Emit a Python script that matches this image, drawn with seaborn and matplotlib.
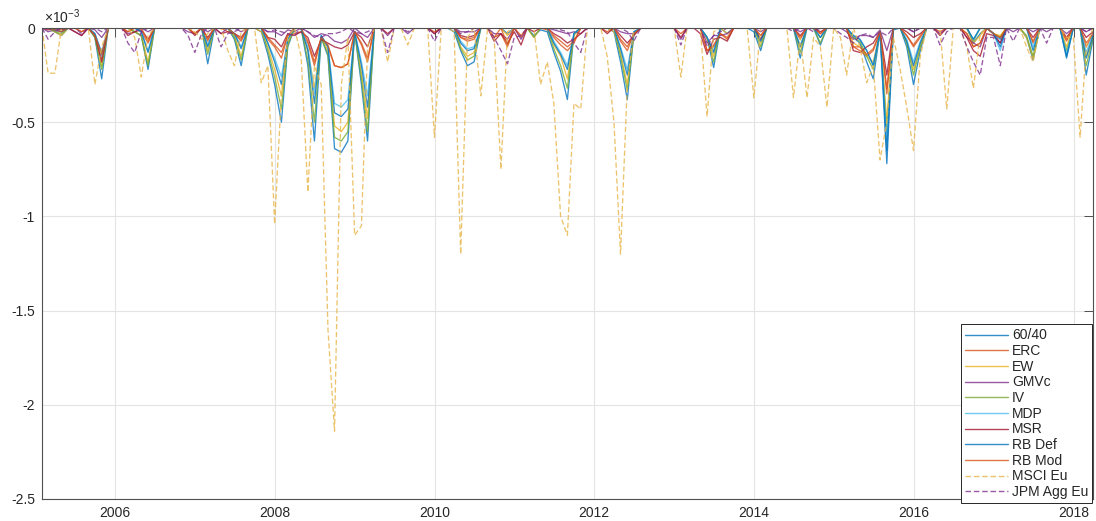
import numpy as np
import pandas as pd
import matplotlib
matplotlib.use("Agg")
import matplotlib.pyplot as plt
import matplotlib.dates as mdates
from matplotlib.lines import Line2D
import seaborn as sns

# ---------------- data (drawdown values, units of 1e-3; months not listed are 0) ----------------
start_month = "2005-01"
end_month = "2018-03"
series_names = ["60/40", "ERC", "EW", "GMVc", "IV", "MDP", "MSR", "RB Def", "RB Mod", "MSCI Eu", "JPM Agg Eu"]

s_6040 = [("2005-03", -0.02), ("2005-04", -0.04), ("2005-09", -0.05), ("2005-10", -0.27), ("2006-03", -0.02),
          ("2006-04", -0.04), ("2006-05", -0.22), ("2007-02", -0.19), ("2007-06", -0.06), ("2007-07", -0.20),
          ("2007-10", -0.02), ("2007-11", -0.14), ("2007-12", -0.30), ("2008-01", -0.50), ("2008-02", -0.10),
          ("2008-05", -0.20), ("2008-06", -0.60), ("2008-07", -0.05), ("2008-08", -0.15), ("2008-09", -0.64),
          ("2008-10", -0.66), ("2008-11", -0.60), ("2008-12", -0.02), ("2009-01", -0.30), ("2009-02", -0.60),
          ("2010-03", -0.02), ("2010-04", -0.12), ("2010-05", -0.20), ("2010-06", -0.18), ("2010-11", -0.03),
          ("2011-03", -0.04), ("2011-04", -0.01), ("2011-05", -0.02), ("2011-06", -0.13), ("2011-07", -0.23),
          ("2011-08", -0.38), ("2011-09", -0.03), ("2012-03", -0.02), ("2012-04", -0.18), ("2012-05", -0.38),
          ("2012-06", -0.03), ("2013-05", -0.05), ("2013-06", -0.21), ("2013-08", -0.03), ("2013-12", -0.02),
          ("2014-01", -0.12), ("2014-07", -0.16), ("2014-10", -0.09), ("2015-03", -0.05), ("2015-04", -0.08),
          ("2015-05", -0.18), ("2015-06", -0.27), ("2015-07", -0.02), ("2015-08", -0.72), ("2015-09", -0.01),
          ("2015-11", -0.10), ("2015-12", -0.30), ("2016-01", -0.12), ("2016-09", -0.08), ("2016-10", -0.03),
          ("2016-12", -0.03), ("2017-01", -0.06), ("2017-05", -0.05), ("2017-06", -0.17), ("2017-11", -0.16),
          ("2018-02", -0.25), ("2018-03", -0.06)]

s_erc = [("2005-03", -0.01), ("2005-04", -0.02), ("2005-07", -0.02), ("2005-09", -0.04), ("2005-10", -0.16),
         ("2006-02", -0.02), ("2006-04", -0.02), ("2006-05", -0.08), ("2006-12", -0.03), ("2007-02", -0.07),
         ("2007-05", -0.02), ("2007-06", -0.03), ("2007-07", -0.07), ("2007-11", -0.06), ("2007-12", -0.10),
         ("2008-01", -0.16), ("2008-02", -0.04), ("2008-03", -0.03), ("2008-04", -0.02), ("2008-05", -0.08),
         ("2008-06", -0.20), ("2008-07", -0.05), ("2008-08", -0.10), ("2008-09", -0.20), ("2008-10", -0.21),
         ("2008-11", -0.19), ("2008-12", -0.02), ("2009-01", -0.09), ("2009-02", -0.18), ("2009-12", -0.02),
         ("2010-04", -0.05), ("2010-05", -0.07), ("2010-06", -0.06), ("2010-09", -0.05), ("2010-10", -0.03),
         ("2010-11", -0.10), ("2011-01", -0.05), ("2011-05", -0.01), ("2011-06", -0.05), ("2011-07", -0.09),
         ("2011-08", -0.12), ("2011-09", -0.08), ("2012-02", -0.02), ("2012-04", -0.07), ("2012-05", -0.12),
         ("2012-06", -0.03), ("2013-01", -0.03), ("2013-05", -0.12), ("2013-06", -0.10), ("2013-07", -0.03),
         ("2013-08", -0.06), ("2014-01", -0.04), ("2014-07", -0.06), ("2014-10", -0.03), ("2015-03", -0.10),
         ("2015-04", -0.12), ("2015-05", -0.15), ("2015-06", -0.12), ("2015-07", -0.02), ("2015-08", -0.35),
         ("2015-11", -0.04), ("2015-12", -0.10), ("2016-01", -0.05), ("2016-04", -0.02), ("2016-08", -0.03),
         ("2016-09", -0.10), ("2016-10", -0.08), ("2016-12", -0.03), ("2017-01", -0.05), ("2017-06", -0.08),
         ("2017-11", -0.07), ("2018-02", -0.10), ("2018-03", -0.03)]

s_ew = [("2005-03", -0.02), ("2005-04", -0.04), ("2005-09", -0.04), ("2005-10", -0.20), ("2006-03", -0.02),
        ("2006-04", -0.04), ("2006-05", -0.18), ("2007-02", -0.12), ("2007-06", -0.04), ("2007-07", -0.15),
        ("2007-10", -0.02), ("2007-11", -0.10), ("2007-12", -0.22), ("2008-01", -0.36), ("2008-02", -0.08),
        ("2008-05", -0.12), ("2008-06", -0.32), ("2008-07", -0.05), ("2008-08", -0.12), ("2008-09", -0.52),
        ("2008-10", -0.55), ("2008-11", -0.50), ("2008-12", -0.02), ("2009-01", -0.24), ("2009-02", -0.48),
        ("2010-04", -0.10), ("2010-05", -0.15), ("2010-06", -0.13), ("2010-11", -0.04), ("2011-03", -0.05),
        ("2011-06", -0.09), ("2011-07", -0.15), ("2011-08", -0.27), ("2011-09", -0.04), ("2012-03", -0.02),
        ("2012-04", -0.13), ("2012-05", -0.30), ("2012-06", -0.03), ("2013-05", -0.06), ("2013-06", -0.15),
        ("2013-08", -0.03), ("2014-01", -0.08), ("2014-07", -0.10), ("2014-10", -0.05), ("2015-03", -0.08),
        ("2015-04", -0.10), ("2015-05", -0.15), ("2015-06", -0.18), ("2015-07", -0.02), ("2015-08", -0.50),
        ("2015-11", -0.07), ("2015-12", -0.22), ("2016-01", -0.10), ("2016-09", -0.08), ("2016-10", -0.04),
        ("2016-12", -0.03), ("2017-01", -0.04), ("2017-05", -0.05), ("2017-06", -0.16), ("2017-11", -0.10),
        ("2018-02", -0.15), ("2018-03", -0.04)]

s_gmvc = [("2005-02", -0.02), ("2005-03", -0.01), ("2005-06", -0.02), ("2005-07", -0.04), ("2005-09", -0.01),
          ("2005-10", -0.05), ("2006-02", -0.03), ("2006-03", -0.02), ("2006-05", -0.02), ("2006-11", -0.02),
          ("2006-12", -0.03), ("2007-02", -0.02), ("2007-04", -0.03), ("2007-07", -0.02), ("2007-11", -0.02),
          ("2007-12", -0.02), ("2008-01", -0.04), ("2008-02", -0.01), ("2008-03", -0.02), ("2008-05", -0.02),
          ("2008-06", -0.05), ("2008-07", -0.03), ("2008-08", -0.04), ("2008-09", -0.07), ("2008-10", -0.08),
          ("2008-11", -0.06), ("2009-01", -0.03), ("2009-02", -0.05), ("2009-05", -0.04), ("2009-08", -0.03),
          ("2009-12", -0.03), ("2010-04", -0.02), ("2010-05", -0.02), ("2010-06", -0.02), ("2010-09", -0.03),
          ("2010-10", -0.03), ("2010-11", -0.06), ("2011-01", -0.06), ("2011-06", -0.01), ("2011-07", -0.02),
          ("2011-08", -0.03), ("2011-09", -0.02), ("2011-10", -0.03), ("2012-04", -0.02), ("2012-05", -0.03),
          ("2012-06", -0.03), ("2013-01", -0.06), ("2013-05", -0.08), ("2013-06", -0.04), ("2013-07", -0.04),
          ("2013-08", -0.03), ("2014-01", -0.02), ("2014-07", -0.02), ("2015-02", -0.02), ("2015-03", -0.06),
          ("2015-04", -0.04), ("2015-05", -0.04), ("2015-06", -0.05), ("2015-07", -0.01), ("2015-08", -0.12),
          ("2015-12", -0.02), ("2016-04", -0.03), ("2016-08", -0.05), ("2016-09", -0.08), ("2016-10", -0.10),
          ("2016-12", -0.03), ("2017-01", -0.08), ("2017-03", -0.02), ("2017-06", -0.02), ("2017-08", -0.02),
          ("2017-11", -0.03), ("2018-02", -0.02)]

s_iv = [("2005-03", -0.02), ("2005-04", -0.03), ("2005-09", -0.05), ("2005-10", -0.22), ("2006-03", -0.02),
        ("2006-04", -0.04), ("2006-05", -0.20), ("2007-02", -0.14), ("2007-06", -0.05), ("2007-07", -0.17),
        ("2007-11", -0.12), ("2007-12", -0.26), ("2008-01", -0.43), ("2008-02", -0.09), ("2008-05", -0.17),
        ("2008-06", -0.50), ("2008-07", -0.05), ("2008-08", -0.14), ("2008-09", -0.58), ("2008-10", -0.60),
        ("2008-11", -0.55), ("2008-12", -0.02), ("2009-01", -0.27), ("2009-02", -0.55), ("2010-04", -0.11),
        ("2010-05", -0.17), ("2010-06", -0.15), ("2011-03", -0.05), ("2011-06", -0.11), ("2011-07", -0.20),
        ("2011-08", -0.32), ("2011-09", -0.03), ("2012-04", -0.15), ("2012-05", -0.33), ("2012-06", -0.03),
        ("2013-05", -0.05), ("2013-06", -0.18), ("2014-01", -0.10), ("2014-07", -0.13), ("2014-10", -0.08),
        ("2015-03", -0.05), ("2015-04", -0.07), ("2015-05", -0.15), ("2015-06", -0.22), ("2015-07", -0.02),
        ("2015-08", -0.55), ("2015-11", -0.08), ("2015-12", -0.25), ("2016-01", -0.10), ("2016-09", -0.07),
        ("2016-12", -0.03), ("2017-01", -0.05), ("2017-05", -0.04), ("2017-06", -0.15), ("2017-11", -0.12),
        ("2018-02", -0.20), ("2018-03", -0.05)]

s_mdp = [("2005-03", -0.01), ("2005-04", -0.02), ("2005-09", -0.03), ("2005-10", -0.15), ("2006-04", -0.02),
         ("2006-05", -0.12), ("2007-02", -0.09), ("2007-06", -0.03), ("2007-07", -0.10), ("2007-11", -0.08),
         ("2007-12", -0.16), ("2008-01", -0.26), ("2008-02", -0.06), ("2008-05", -0.10), ("2008-06", -0.35),
         ("2008-07", -0.04), ("2008-08", -0.10), ("2008-09", -0.40), ("2008-10", -0.42), ("2008-11", -0.38),
         ("2008-12", -0.02), ("2009-01", -0.18), ("2009-02", -0.36), ("2010-04", -0.07), ("2010-05", -0.11),
         ("2010-06", -0.10), ("2011-06", -0.07), ("2011-07", -0.13), ("2011-08", -0.20), ("2011-09", -0.03),
         ("2012-04", -0.10), ("2012-05", -0.22), ("2012-06", -0.02), ("2013-05", -0.05), ("2013-06", -0.12),
         ("2014-01", -0.06), ("2014-07", -0.09), ("2014-10", -0.05), ("2015-03", -0.04), ("2015-04", -0.06),
         ("2015-05", -0.12), ("2015-06", -0.20), ("2015-07", -0.02), ("2015-08", -0.60), ("2015-11", -0.06),
         ("2015-12", -0.18), ("2016-01", -0.07), ("2016-09", -0.06), ("2016-12", -0.03), ("2017-01", -0.12),
         ("2017-06", -0.10), ("2017-11", -0.14), ("2018-02", -0.13), ("2018-03", -0.03)]

s_msr = [("2005-02", -0.01), ("2005-04", -0.01), ("2005-06", -0.02), ("2005-07", -0.04), ("2005-09", -0.04),
         ("2005-10", -0.18), ("2006-02", -0.04), ("2006-03", -0.02), ("2006-04", -0.01), ("2006-05", -0.06),
         ("2006-12", -0.04), ("2007-02", -0.05), ("2007-04", -0.03), ("2007-05", -0.02), ("2007-06", -0.03),
         ("2007-07", -0.05), ("2007-11", -0.05), ("2007-12", -0.06), ("2008-01", -0.10), ("2008-02", -0.03),
         ("2008-03", -0.04), ("2008-04", -0.02), ("2008-05", -0.05), ("2008-06", -0.15), ("2008-07", -0.06),
         ("2008-08", -0.08), ("2008-09", -0.10), ("2008-10", -0.11), ("2008-11", -0.09), ("2008-12", -0.02),
         ("2009-01", -0.05), ("2009-02", -0.10), ("2009-05", -0.03), ("2009-12", -0.03), ("2010-04", -0.04),
         ("2010-05", -0.05), ("2010-06", -0.04), ("2010-09", -0.07), ("2010-10", -0.03), ("2010-11", -0.08),
         ("2010-12", -0.02), ("2011-01", -0.09), ("2011-03", -0.02), ("2011-06", -0.03), ("2011-07", -0.05),
         ("2011-08", -0.08), ("2011-09", -0.06), ("2011-10", -0.03), ("2012-02", -0.03), ("2012-04", -0.04),
         ("2012-05", -0.08), ("2012-06", -0.04), ("2013-01", -0.05), ("2013-04", -0.03), ("2013-05", -0.14),
         ("2013-06", -0.06), ("2013-07", -0.05), ("2013-08", -0.07), ("2014-01", -0.06), ("2014-07", -0.04),
         ("2014-10", -0.02), ("2015-03", -0.12), ("2015-04", -0.13), ("2015-05", -0.10), ("2015-06", -0.08),
         ("2015-07", -0.02), ("2015-08", -0.25), ("2015-11", -0.02), ("2015-12", -0.05), ("2016-01", -0.03),
         ("2016-04", -0.04), ("2016-08", -0.05), ("2016-09", -0.12), ("2016-10", -0.15), ("2016-11", -0.03),
         ("2016-12", -0.04), ("2017-01", -0.08), ("2017-06", -0.05), ("2017-11", -0.05), ("2018-02", -0.05),
         ("2018-03", -0.02)]

s_rbdef = [("2005-03", -0.01), ("2005-04", -0.02), ("2005-09", -0.03), ("2005-10", -0.13), ("2006-04", -0.02),
           ("2006-05", -0.13), ("2007-02", -0.10), ("2007-06", -0.03), ("2007-07", -0.11), ("2007-11", -0.08),
           ("2007-12", -0.18), ("2008-01", -0.30), ("2008-02", -0.06), ("2008-05", -0.12), ("2008-06", -0.40),
           ("2008-07", -0.04), ("2008-08", -0.10), ("2008-09", -0.45), ("2008-10", -0.47), ("2008-11", -0.43),
           ("2008-12", -0.02), ("2009-01", -0.20), ("2009-02", -0.42), ("2010-04", -0.08), ("2010-05", -0.12),
           ("2010-06", -0.11), ("2011-06", -0.08), ("2011-07", -0.14), ("2011-08", -0.22), ("2011-09", -0.03),
           ("2012-04", -0.11), ("2012-05", -0.25), ("2012-06", -0.02), ("2013-05", -0.05), ("2013-06", -0.13),
           ("2014-01", -0.07), ("2014-07", -0.10), ("2014-10", -0.05), ("2015-03", -0.04), ("2015-04", -0.06),
           ("2015-05", -0.12), ("2015-06", -0.20), ("2015-07", -0.02), ("2015-08", -0.65), ("2015-11", -0.07),
           ("2015-12", -0.20), ("2016-01", -0.08), ("2016-09", -0.06), ("2016-12", -0.03), ("2017-01", -0.10),
           ("2017-06", -0.12), ("2017-11", -0.15), ("2018-02", -0.16), ("2018-03", -0.04)]

s_rbmod = [("2005-03", -0.01), ("2005-04", -0.02), ("2005-07", -0.02), ("2005-09", -0.04), ("2005-10", -0.14),
           ("2006-02", -0.02), ("2006-05", -0.07), ("2006-12", -0.03), ("2007-02", -0.06), ("2007-06", -0.03),
           ("2007-07", -0.06), ("2007-11", -0.05), ("2007-12", -0.09), ("2008-01", -0.13), ("2008-02", -0.04),
           ("2008-05", -0.07), ("2008-06", -0.18), ("2008-07", -0.05), ("2008-08", -0.09), ("2008-09", -0.20),
           ("2008-10", -0.21), ("2008-11", -0.19), ("2008-12", -0.02), ("2009-01", -0.08), ("2009-02", -0.16),
           ("2010-04", -0.05), ("2010-05", -0.06), ("2010-06", -0.05), ("2010-09", -0.05), ("2010-11", -0.09),
           ("2011-01", -0.04), ("2011-06", -0.04), ("2011-07", -0.07), ("2011-08", -0.10), ("2011-09", -0.07),
           ("2012-04", -0.06), ("2012-05", -0.10), ("2012-06", -0.03), ("2013-05", -0.12), ("2013-06", -0.09),
           ("2013-07", -0.03), ("2013-08", -0.05), ("2014-01", -0.04), ("2014-07", -0.05), ("2014-10", -0.03),
           ("2015-03", -0.10), ("2015-04", -0.10), ("2015-05", -0.14), ("2015-06", -0.11), ("2015-07", -0.02),
           ("2015-08", -0.32), ("2015-11", -0.04), ("2015-12", -0.09), ("2016-01", -0.04), ("2016-08", -0.03),
           ("2016-09", -0.10), ("2016-10", -0.08), ("2016-12", -0.03), ("2017-01", -0.05), ("2017-06", -0.07),
           ("2017-11", -0.06), ("2018-02", -0.08), ("2018-03", -0.03)]

s_msci = [("2005-02", -0.24), ("2005-03", -0.24), ("2005-09", -0.30), ("2005-10", -0.10), ("2006-03", -0.05),
          ("2006-04", -0.26), ("2006-05", -0.04), ("2006-12", -0.02), ("2007-01", -0.06), ("2007-02", -0.03),
          ("2007-05", -0.12), ("2007-06", -0.20), ("2007-07", -0.02), ("2007-10", -0.29), ("2007-11", -0.20),
          ("2007-12", -1.04), ("2008-01", -0.35), ("2008-02", -0.05), ("2008-04", -0.15), ("2008-05", -0.87),
          ("2008-06", -0.20), ("2008-07", -0.30), ("2008-08", -1.60), ("2008-09", -2.14), ("2008-10", -0.30),
          ("2008-11", -0.05), ("2008-12", -1.10), ("2009-01", -1.05), ("2009-02", -0.10), ("2009-05", -0.18),
          ("2009-08", -0.09), ("2009-12", -0.58), ("2010-03", -0.02), ("2010-04", -1.20), ("2010-05", -0.05),
          ("2010-07", -0.36), ("2010-09", -0.05), ("2010-10", -0.75), ("2010-11", -0.02), ("2011-04", -0.30),
          ("2011-05", -0.18), ("2011-06", -0.40), ("2011-07", -1.00), ("2011-08", -1.10), ("2011-09", -0.40),
          ("2011-10", -0.43), ("2012-02", -0.15), ("2012-03", -0.50), ("2012-04", -1.20), ("2012-05", -0.30),
          ("2013-01", -0.26), ("2013-05", -0.47), ("2013-06", -0.02), ("2013-12", -0.37), ("2014-06", -0.37),
          ("2014-07", -0.05), ("2014-08", -0.37), ("2014-09", -0.05), ("2014-10", -0.10), ("2014-11", -0.42),
          ("2015-01", -0.05), ("2015-02", -0.25), ("2015-04", -0.10), ("2015-05", -0.29), ("2015-06", -0.20),
          ("2015-07", -0.70), ("2015-08", -0.50), ("2015-09", -0.05), ("2015-10", -0.22), ("2015-11", -0.42),
          ("2015-12", -0.65), ("2016-01", -0.15), ("2016-05", -0.43), ("2016-08", -0.10), ("2016-09", -0.32),
          ("2016-10", -0.03), ("2017-05", -0.10), ("2017-06", -0.18), ("2017-11", -0.05), ("2017-12", -0.05),
          ("2018-01", -0.58), ("2018-02", -0.10)]

s_jpm = [("2005-02", -0.06), ("2005-03", -0.02), ("2005-07", -0.03), ("2005-10", -0.02), ("2006-02", -0.08),
         ("2006-03", -0.13), ("2006-04", -0.02), ("2006-11", -0.04), ("2006-12", -0.13), ("2007-01", -0.03),
         ("2007-04", -0.10), ("2007-05", -0.03), ("2007-06", -0.02), ("2007-11", -0.02), ("2007-12", -0.01),
         ("2008-01", -0.02), ("2008-02", -0.03), ("2008-03", -0.04), ("2008-05", -0.02), ("2008-06", -0.04),
         ("2008-07", -0.05), ("2008-08", -0.03), ("2008-09", -0.03), ("2008-10", -0.02), ("2008-12", -0.02),
         ("2009-01", -0.03), ("2009-02", -0.02), ("2009-05", -0.13), ("2009-08", -0.02), ("2009-12", -0.07),
         ("2010-04", -0.03), ("2010-05", -0.02), ("2010-09", -0.05), ("2010-10", -0.12), ("2010-11", -0.19),
         ("2010-12", -0.05), ("2011-01", -0.04), ("2011-07", -0.01), ("2011-08", -0.02), ("2011-09", -0.08),
         ("2011-10", -0.13), ("2012-05", -0.02), ("2012-06", -0.07), ("2013-01", -0.09), ("2013-05", -0.10),
         ("2013-06", -0.04), ("2013-07", -0.02), ("2014-06", -0.02), ("2014-09", -0.02), ("2015-01", -0.03),
         ("2015-02", -0.05), ("2015-03", -0.08), ("2015-04", -0.04), ("2015-05", -0.03), ("2015-06", -0.05),
         ("2015-07", -0.02), ("2015-08", -0.04), ("2015-12", -0.02), ("2016-04", -0.09), ("2016-05", -0.02),
         ("2016-08", -0.10), ("2016-09", -0.18), ("2016-10", -0.25), ("2016-11", -0.05), ("2016-12", -0.05),
         ("2017-01", -0.20), ("2017-03", -0.07), ("2017-08", -0.08), ("2018-02", -0.02)]

series_points = [s_6040, s_erc, s_ew, s_gmvc, s_iv, s_mdp, s_msr, s_rbdef, s_rbmod, s_msci, s_jpm]

y_ticks = [-2.5, -2.0, -1.5, -1.0, -0.5, 0.0]
y_tick_labels = ["-2.5", "-2", "-1.5", "-1", "-0.5", "0"]

# ---------------- styles ----------------
colors = ["#0072BD", "#D95319", "#EDB120", "#7E2F8E", "#77AC30", "#4DBEEE", "#A2142F",
          "#0072BD", "#D95319", "#E8B548", "#7E2F8E"]
dashed = {"MSCI Eu", "JPM Agg Eu"}

# ---------------- build table ----------------
months = pd.period_range(start_month, end_month, freq="M")
frame = pd.DataFrame(0.0, index=months, columns=series_names)
for name, pts in zip(series_names, series_points):
    for d, v in pts:
        frame.loc[pd.Period(d, freq="M"), name] = v
frame.index = months.to_timestamp(how="end").normalize()
frame.index.name = "date"
long_df = frame.reset_index().melt(id_vars="date", var_name="series", value_name="value")

# ---------------- plot ----------------
sns.set_theme(style="white")
plt.rcParams["font.family"] = ["Liberation Sans", "DejaVu Sans"]
plt.rcParams["axes.unicode_minus"] = False
plt.rcParams["mathtext.default"] = "regular"

fig = plt.figure(figsize=(10.96, 5.21), dpi=100)
ax = fig.add_axes([42 / 1096, 1 - 499 / 521, (1093 - 42) / 1096, (499 - 28) / 521])

palette = dict(zip(series_names, colors))
dash_map = {n: ((4, 2) if n in dashed else "") for n in series_names}
sns.lineplot(data=long_df, x="date", y="value", hue="series", style="series",
             hue_order=series_names, style_order=series_names, palette=palette,
             dashes=dash_map, linewidth=0.95, errorbar=None, legend=False, ax=ax, alpha=0.8)

ax.set_xlim(frame.index[0], frame.index[-1])
ax.set_ylim(-2.5, 0)
ax.set_yticks(y_ticks)
ax.set_yticklabels(y_tick_labels)
ax.xaxis.set_major_locator(mdates.YearLocator(2))
ax.xaxis.set_major_formatter(mdates.DateFormatter("%Y"))
ax.set_xlabel("")
ax.set_ylabel("")

ax.grid(True, color="#e4e4e4", linewidth=0.8)
ax.set_axisbelow(True)
for sp in ax.spines.values():
    sp.set_color("#505050")
    sp.set_linewidth(0.8)
ax.tick_params(direction="in", length=6.5, width=0.7, color="#505050", labelsize=10,
               labelcolor="#262626", top=True, right=True, pad=5)

ax.text(0.002, 1.004, r"$\times$10$^{-3}$", transform=ax.transAxes, ha="left", va="bottom",
        fontsize=10, color="#262626")

handles = []
for n, c in zip(series_names, colors):
    h = Line2D([], [], color=c, lw=1.0, alpha=0.8, linestyle="-")
    if n in dashed:
        h.set_linestyle("--")
        h.set_dashes((4, 2))
    handles.append(h)
leg = ax.legend(handles, series_names, loc="lower right", bbox_to_anchor=(0.9995, -0.009),
                borderaxespad=0, fontsize=10, frameon=True, fancybox=False, framealpha=1,
                edgecolor="#262626", handlelength=3.1, handletextpad=0.3, labelspacing=0.12,
                borderpad=0.3)
leg.get_frame().set_linewidth(0.7)
for t in leg.get_texts():
    t.set_color("#262626")

fig.savefig("out.png", dpi=100)
